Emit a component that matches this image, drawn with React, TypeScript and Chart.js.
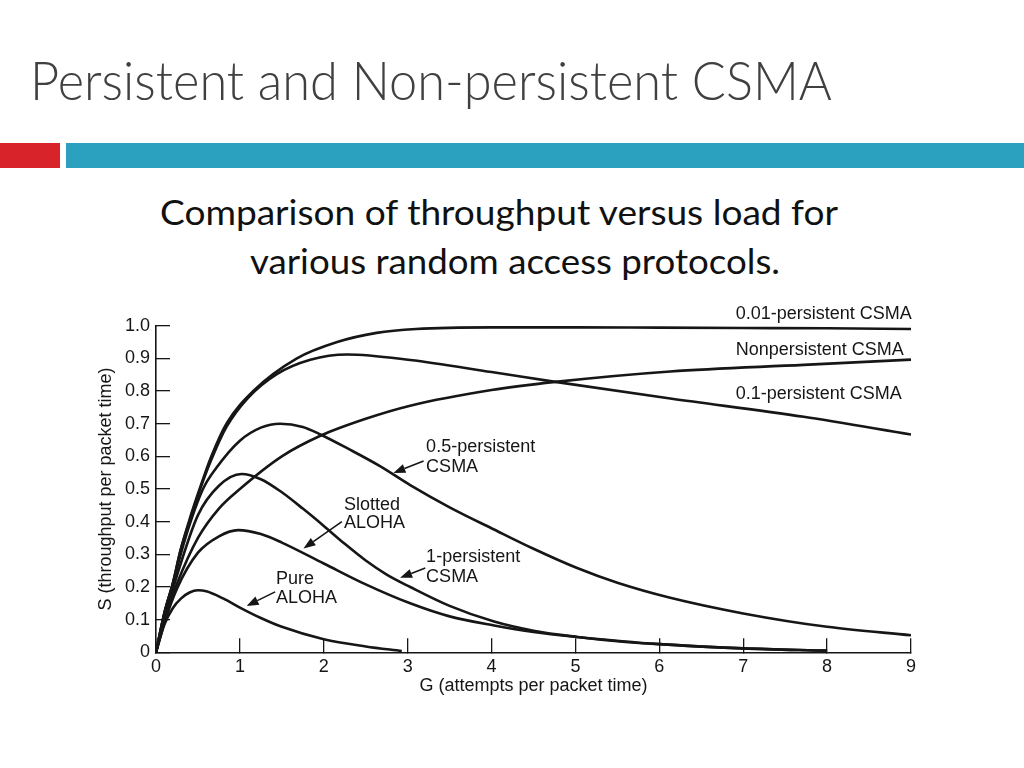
import React, { useEffect, useLayoutEffect, useRef } from "react";
import { Chart, registerables } from "chart.js";

Chart.register(...registerables);

// ---------- data ----------
const xTickValues = [0, 1, 2, 3, 4, 5, 6, 7, 8, 9];
const yTickLabels = ["0", "0.1", "0.2", "0.3", "0.4", "0.5", "0.6", "0.7", "0.8", "0.9", "1.0"];

const p001G = [0, 0.1, 0.2, 0.29, 0.41, 0.52, 0.66, 0.84, 1.16, 1.68, 2.16, 2.63, 3.1, 4, 5, 6, 7, 8, 9];
const p001S = [0, 0.12, 0.21, 0.31, 0.415, 0.5, 0.6, 0.7, 0.8, 0.9, 0.95, 0.978, 0.99, 0.995, 0.995, 0.994, 0.993, 0.992, 0.99];

const p01G = [0, 0.1, 0.2, 0.29, 0.41, 0.52, 0.66, 0.84, 1.1, 1.44, 1.84, 2.28, 3.03, 4, 4.76, 6.13, 7.72, 9];
const p01S = [0, 0.12, 0.21, 0.31, 0.41, 0.495, 0.59, 0.69, 0.78, 0.852, 0.896, 0.912, 0.895, 0.858, 0.828, 0.777, 0.721, 0.667];

const nonpG = [0, 0.1, 0.25, 0.5, 0.75, 1, 1.5, 1.96, 2.5, 3.03, 4, 4.76, 6.13, 7.72, 9];
const nonpS = [0, 0.1, 0.21, 0.35, 0.44, 0.5, 0.6, 0.663, 0.715, 0.755, 0.803, 0.828, 0.86, 0.88, 0.896];

const p05G = [0, 0.1, 0.2, 0.35, 0.56, 0.72, 1.0, 1.25, 1.48, 1.75, 1.96, 2.3, 2.67, 3.03, 3.5, 4.03, 4.5, 5.02, 5.5, 6.13, 7, 8, 9];
const p05S = [0, 0.12, 0.21, 0.35, 0.5, 0.565, 0.648, 0.688, 0.7, 0.69, 0.667, 0.622, 0.57, 0.512, 0.444, 0.376, 0.317, 0.258, 0.213, 0.167, 0.119, 0.078, 0.052];

const p1G = [0, 0.1, 0.25, 0.5, 0.75, 1.02, 1.25, 1.5, 1.75, 2, 2.25, 2.5, 2.75, 3.03, 3.5, 4.03, 4.5, 5.02, 5.5, 6, 7, 8];
const p1S = [0, 0.1, 0.235, 0.42, 0.51, 0.546, 0.53, 0.49, 0.44, 0.387, 0.332, 0.281, 0.238, 0.2, 0.142, 0.094, 0.066, 0.047, 0.034, 0.025, 0.012, 0.005];

const slottedG = [0, 0.1, 0.25, 0.5, 0.75, 0.98, 1.25, 1.5, 2, 2.5, 3.03, 3.5, 4.03, 4.5, 5.02, 6, 7, 8];
const slottedS = [0, 0.09, 0.195, 0.305, 0.355, 0.374, 0.362, 0.336, 0.272, 0.208, 0.15, 0.11, 0.082, 0.062, 0.047, 0.025, 0.012, 0.005];

const pureG = [0, 0.1, 0.2, 0.3, 0.4, 0.5, 0.6, 0.8, 1, 1.25, 1.5, 2, 2.5, 2.93];
const pureS = [0, 0.085, 0.135, 0.165, 0.183, 0.19, 0.187, 0.165, 0.137, 0.105, 0.078, 0.04, 0.018, 0.004];

const seriesNames = ["0.01-persistent CSMA", "Nonpersistent CSMA", "0.1-persistent CSMA", "0.5-persistent CSMA", "1-persistent CSMA", "Slotted ALOHA", "Pure ALOHA"];
const seriesG = [p001G, nonpG, p01G, p05G, p1G, slottedG, pureG];
const seriesS = [p001S, nonpS, p01S, p05S, p1S, slottedS, pureS];

// label text lines, anchored in data units (left edge, vertical middle)
const labelTexts = ["0.01-persistent CSMA", "Nonpersistent CSMA", "0.1-persistent CSMA", "0.5-persistent", "CSMA", "Slotted", "ALOHA", "1-persistent", "CSMA", "Pure", "ALOHA"];
const labelG = [6.91, 6.91, 6.91, 3.22, 3.22, 2.24, 2.24, 3.22, 3.22, 1.43, 1.43];
const labelS = [1.035, 0.925, 0.79, 0.628, 0.567, 0.451, 0.396, 0.292, 0.23, 0.224, 0.166];

// arrows: tail -> head, in data units
const arrowFromG = [3.19, 2.216, 3.21, 1.42];
const arrowFromS = [0.586, 0.4, 0.258, 0.185];
const arrowToG = [2.83, 1.758, 2.91, 1.08];
const arrowToS = [0.549, 0.318, 0.228, 0.142];

const xTitle = "G (attempts per packet time)";
const yTitle = "S (throughput per packet time)";
const slideTitle = "Persistent and Non-persistent CSMA";
const subtitle1 = "Comparison of throughput versus load for";
const subtitle2 = "various random access protocols.";

const FONT = "'Liberation Sans', Arial, Helvetica, sans-serif";
const INK = "#161616";

const annotationPlugin = {
  id: "figAnnotations",
  afterDraw(chart: any) {
    const { ctx, scales } = chart;
    const xs = scales.x;
    const ys = scales.y;
    ctx.save();
    ctx.fillStyle = INK;
    ctx.font = `18px ${FONT}`;
    ctx.textAlign = "left";
    ctx.textBaseline = "middle";
    labelTexts.forEach((t, i) => {
      ctx.fillText(t, xs.getPixelForValue(labelG[i]), ys.getPixelForValue(labelS[i]));
    });
    ctx.strokeStyle = INK;
    ctx.lineWidth = 1.6;
    arrowFromG.forEach((_, i) => {
      const x1 = xs.getPixelForValue(arrowFromG[i]);
      const y1 = ys.getPixelForValue(arrowFromS[i]);
      const x2 = xs.getPixelForValue(arrowToG[i]);
      const y2 = ys.getPixelForValue(arrowToS[i]);
      const ang = Math.atan2(y2 - y1, x2 - x1);
      const len = 12;
      const half = 4.5;
      const bx = x2 - len * Math.cos(ang);
      const by = y2 - len * Math.sin(ang);
      ctx.beginPath();
      ctx.moveTo(x1, y1);
      ctx.lineTo(bx, by);
      ctx.stroke();
      ctx.beginPath();
      ctx.moveTo(x2, y2);
      ctx.lineTo(bx + half * Math.sin(ang), by - half * Math.cos(ang));
      ctx.lineTo(bx - half * Math.sin(ang), by + half * Math.cos(ang));
      ctx.closePath();
      ctx.fill();
    });
    ctx.restore();
  },
};

function FitText(props: { text: string; left: number; top: number; width: number; size: number; color: string; family: string; weight?: number }) {
  const ref = useRef<HTMLSpanElement>(null);
  useLayoutEffect(() => {
    const el = ref.current;
    if (!el) return;
    el.style.transform = "none";
    const w = el.getBoundingClientRect().width;
    if (w > 0) el.style.transform = `scaleX(${props.width / w})`;
  });
  return (
    <span
      ref={ref}
      style={{
        position: "absolute",
        left: props.left,
        top: props.top,
        fontSize: props.size,
        lineHeight: `${props.size}px`,
        fontFamily: props.family,
        fontWeight: props.weight ?? 400,
        color: props.color,
        whiteSpace: "nowrap",
        transformOrigin: "0 0",
        display: "inline-block",
      }}
    >
      {props.text}
    </span>
  );
}

function CsmaChart() {
  const canvasRef = useRef<HTMLCanvasElement>(null);
  useEffect(() => {
    const canvas = canvasRef.current;
    if (!canvas) return;
    const datasets = seriesNames.map((name, i) => ({
      label: name,
      data: seriesG[i].map((g, j) => ({ x: g, y: seriesS[i][j] })),
      borderColor: INK,
      borderWidth: 2.6,
      pointRadius: 0,
      fill: false,
      cubicInterpolationMode: "monotone" as const,
    }));
    const chart = new Chart(canvas, {
      type: "line",
      data: { datasets },
      plugins: [annotationPlugin],
      options: {
        animation: false,
        responsive: false,
        devicePixelRatio: 1,
        layout: { padding: { left: 0, right: 113, top: 35.7, bottom: 0 } },
        plugins: { legend: { display: false }, tooltip: { enabled: false }, title: { display: false } },
        scales: {
          x: {
            type: "linear",
            min: 0,
            max: 9,
            afterFit: (s: any) => { s.height = 67.7; },
            afterBuildTicks: (s: any) => { s.ticks = xTickValues.map((v) => ({ value: v })); },
            ticks: { color: INK, font: { family: FONT, size: 18 }, padding: 18, maxRotation: 0, autoSkip: false,
              callback: (v: any) => String(v) },
            grid: { drawOnChartArea: false, tickLength: -14, color: INK, lineWidth: 1.3 },
            border: { display: true, color: INK, width: 1.6 },
            title: { display: true, text: xTitle, color: INK, font: { family: FONT, size: 18 }, padding: { top: 0, bottom: 23 } },
          },
          y: {
            type: "linear",
            min: 0,
            max: 1,
            afterFit: (s: any) => { s.width = 156; },
            afterBuildTicks: (s: any) => { s.ticks = yTickLabels.map((_, i) => ({ value: i / 10 })); },
            ticks: { color: INK, font: { family: FONT, size: 18 }, padding: 20, autoSkip: false,
              callback: (_v: any, i: number) => yTickLabels[i] },
            grid: { drawOnChartArea: false, tickLength: -14, color: INK, lineWidth: 1.3 },
            border: { display: true, color: INK, width: 1.6 },
            title: { display: true, text: yTitle, color: INK, font: { family: FONT, size: 18 }, padding: { top: 95, bottom: 0 } },
          },
        },
      },
    });
    return () => chart.destroy();
  }, []);
  return (
    <div style={{ position: "absolute", left: 0, top: 290, width: 1024, height: 430 }}>
      <canvas ref={canvasRef} width={1024} height={430} style={{ width: 1024, height: 430, display: "block" }} />
    </div>
  );
}

export default function App() {
  return (
    <div style={{ position: "fixed", left: 0, top: 0, width: 1024, height: 768, background: "#ffffff", overflow: "hidden" }}>
      <FitText text={slideTitle} left={30} top={53} width={802} size={54} color="#404040" family="Lato, 'Noto Sans', sans-serif" weight={300} />
      <div style={{ position: "absolute", left: 0, top: 143, width: 60, height: 25, background: "#d8232b" }} />
      <div style={{ position: "absolute", left: 66, top: 143, width: 958, height: 25, background: "#2ba0bf" }} />
      <FitText text={subtitle1} left={160} top={194} width={678} size={35} color="#111111" family="Lato, 'Noto Sans', sans-serif" />
      <FitText text={subtitle2} left={250} top={243} width={530} size={35} color="#111111" family="Lato, 'Noto Sans', sans-serif" />
      <CsmaChart />
    </div>
  );
}
